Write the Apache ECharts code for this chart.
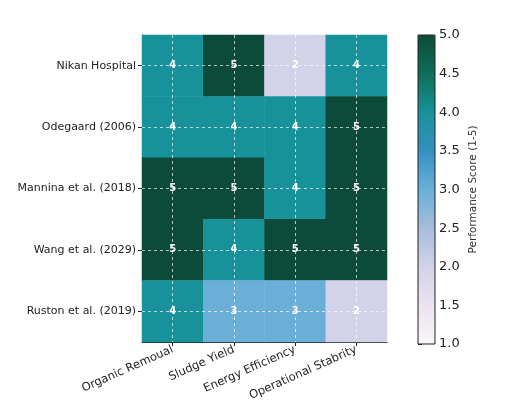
<!DOCTYPE html>
<html><head><meta charset="utf-8">
<script src="https://cdn.jsdelivr.net/npm/echarts@6/dist/echarts.min.js"></script>
<style>html,body{margin:0;padding:0;background:#fff}#c{width:513px;height:405px}</style>
</head><body><div id="c"></div>
<script>
const studies = ['Nikan Hospital','Odegaard (2006)','Mannina et al. (2018)','Wang et al. (2029)','Ruston et al. (2019)'];
const criteria = ['Organic Remoual','Sludge Yield','Energy Efficiency','Operational Stabrity'];
const nikan = [4,5,2,4];
const odegaard = [4,4,4,5];
const mannina = [5,5,4,5];
const wang = [5,4,5,5];
const ruston = [4,3,3,2];
const colorbarTicks = [1,1.5,2,2.5,3,3.5,4,4.5,5];
const palette = ['#fbf5fa','#ece2f0','#d2d2e8','#a6bddb','#69afd8','#3690c0','#17929a','#0e6e58','#0c4b3a'];

const rows = [nikan, odegaard, mannina, wang, ruston];
const data = [];
rows.forEach((r,i)=>r.forEach((v,j)=>data.push([j,i,v])));

const font = 'DejaVu Sans';
const chart = echarts.init(document.getElementById('c'));
chart.setOption({
  backgroundColor:'#ffffff',
  animation:false,
  grid:[
    {left:142, top:35, width:245, height:307},
    {left:418, top:35, width:17, height:309, show:true, borderColor:'#222', borderWidth:1, backgroundColor:'transparent', z:10}
  ],
  xAxis:[
    {type:'category', data:criteria, gridIndex:0,
     axisLine:{show:true, lineStyle:{color:'#222', width:1}},
     axisTick:{show:true, alignWithLabel:true, length:4, lineStyle:{color:'#222'}},
     axisLabel:{rotate:24, fontFamily:font, fontSize:11.5, color:'#222', margin:7},
     splitLine:{show:false}},
    {type:'value', gridIndex:1, show:false, min:0, max:1}
  ],
  yAxis:[
    {type:'category', data:studies, inverse:true, gridIndex:0,
     axisLine:{show:true, lineStyle:{color:'#222', width:1}},
     axisTick:{show:true, alignWithLabel:true, length:4, lineStyle:{color:'#222'}},
     axisLabel:{fontFamily:font, fontSize:11, color:'#222', margin:6},
     splitLine:{show:false}},
    {type:'value', gridIndex:1, position:'right', min:1, max:5, interval:0.5,
     axisLine:{show:false},
     axisTick:{show:true, length:4, lineStyle:{color:'#222'}},
     axisLabel:{fontFamily:font, fontSize:13, color:'#222', margin:4, formatter:v=>v.toFixed(1)},
     splitLine:{show:false},
     name:'Performance Score (1-5)', nameLocation:'middle', nameRotate:90, nameGap:33,
     nameTextStyle:{fontFamily:font, fontSize:10.5, color:'#333'}}
  ],
  visualMap:{type:'continuous', min:1, max:5, calculable:false, seriesIndex:0,
    left:418, top:35, itemWidth:17, itemHeight:309, padding:0, text:null, showLabel:false,
    inRange:{color:palette}},
  series:[
    {type:'heatmap', data:data, xAxisIndex:0, yAxisIndex:0,
     label:{show:true, color:'#ffffff', fontFamily:font, fontSize:10, fontWeight:'bold'},
     itemStyle:{borderWidth:0},
     markLine:{silent:true, symbol:'none', label:{show:false},
       lineStyle:{color:'rgba(255,255,255,0.85)', type:[3,3], width:0.8},
       data: criteria.map(c=>({xAxis:c})).concat(studies.map(s=>({yAxis:s})))}},
    {type:'scatter', data:[], xAxisIndex:1, yAxisIndex:1}
  ]
});
</script></body></html>
